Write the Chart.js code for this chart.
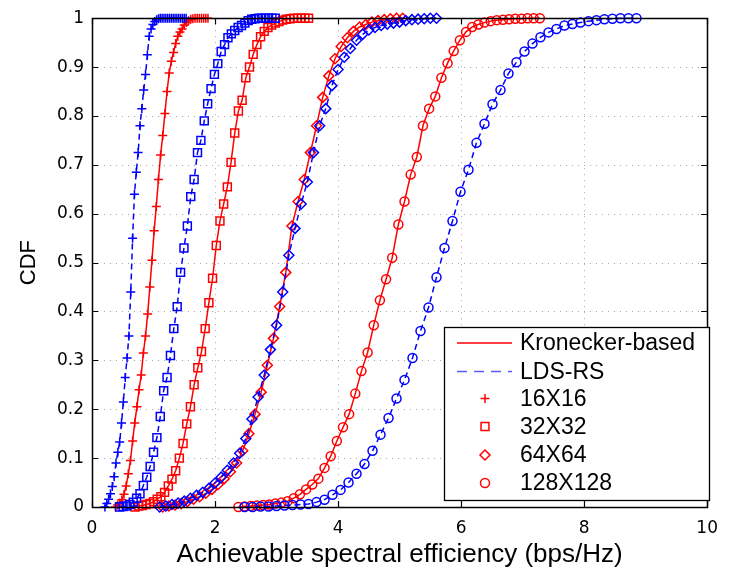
<!DOCTYPE html>
<html>
<head>
<meta charset="utf-8">
<title>CDF of achievable spectral efficiency</title>
<script src="https://cdn.jsdelivr.net/npm/chart.js@4.4.0/dist/chart.umd.min.js"></script>
<style>
    html, body { margin: 0; padding: 0; background: #ffffff; }
    #wrap { width: 729px; height: 570px; }
</style>
</head>
<body>
<div id="wrap"><canvas id="cdfChart" width="729" height="570"></canvas></div>
<script>
// axis ticks
const xTickValues = [0, 2, 4, 6, 8, 10];
const xTickLabels = ['0', '2', '4', '6', '8', '10'];
const yTickValues = [0, 0.1, 0.2, 0.3, 0.4, 0.5, 0.6, 0.7, 0.8, 0.9, 1];
const yTickLabels = ['0', '0.1', '0.2', '0.3', '0.4', '0.5', '0.6', '0.7', '0.8', '0.9', '1'];
const xTitle = 'Achievable spectral efficiency (bps/Hz)';
const yTitle = 'CDF';
const legendLabels = ['Kronecker-based', 'LDS-RS', '16X16', '32X32', '64X64', '128X128'];

// 16X16
const x16Kron = [0.38, 0.415, 0.45, 0.485, 0.52, 0.555, 0.59, 0.625, 0.66, 0.695, 0.73, 0.765, 0.80, 0.835, 0.87, 0.905, 0.94, 0.975, 1.01, 1.045, 1.08, 1.115, 1.15, 1.185, 1.22, 1.255, 1.29, 1.325, 1.36, 1.395, 1.43, 1.465, 1.50, 1.535, 1.57, 1.605, 1.64, 1.675, 1.71, 1.745, 1.78, 1.815, 1.85, 1.885];
const y16Kron = [0, 0.004, 0.008, 0.015, 0.026, 0.043, 0.068, 0.095, 0.135, 0.172, 0.205, 0.240, 0.270, 0.315, 0.350, 0.395, 0.450, 0.505, 0.565, 0.615, 0.670, 0.720, 0.760, 0.805, 0.850, 0.888, 0.912, 0.930, 0.948, 0.963, 0.972, 0.978, 0.986, 0.991, 0.995, 0.998, 0.999, 1, 1, 1, 1, 1, 1, 1];
const x16Lds = [0.21, 0.24, 0.27, 0.30, 0.33, 0.36, 0.39, 0.42, 0.45, 0.48, 0.51, 0.54, 0.57, 0.60, 0.63, 0.66, 0.69, 0.72, 0.75, 0.78, 0.81, 0.84, 0.87, 0.90, 0.93, 0.96, 0.99, 1.02, 1.05, 1.08, 1.11, 1.14, 1.17, 1.20, 1.23, 1.26, 1.29, 1.32, 1.35, 1.38, 1.41, 1.44, 1.47, 1.50, 1.53];
const y16Lds = [0, 0.007, 0.016, 0.027, 0.042, 0.062, 0.090, 0.112, 0.133, 0.172, 0.215, 0.265, 0.305, 0.350, 0.440, 0.550, 0.640, 0.685, 0.725, 0.780, 0.815, 0.853, 0.885, 0.925, 0.963, 0.978, 0.987, 0.993, 0.997, 0.999, 1, 1, 1, 1, 1, 1, 1, 1, 1, 1, 1, 1, 1, 1, 1];

// 32X32
const x32Kron = [0.70, 0.76, 0.82, 0.88, 0.94, 1.00, 1.06, 1.12, 1.18, 1.24, 1.30, 1.36, 1.42, 1.48, 1.54, 1.60, 1.66, 1.72, 1.78, 1.84, 1.90, 1.96, 2.02, 2.08, 2.14, 2.20, 2.26, 2.32, 2.38, 2.44, 2.50, 2.56, 2.62, 2.68, 2.74, 2.80, 2.86, 2.92, 2.98, 3.04, 3.10, 3.16, 3.22, 3.28, 3.34, 3.40, 3.46, 3.52];
const y32Kron = [0, 0.002, 0.003, 0.005, 0.007, 0.011, 0.016, 0.021, 0.030, 0.043, 0.057, 0.074, 0.100, 0.130, 0.170, 0.205, 0.250, 0.285, 0.318, 0.365, 0.418, 0.468, 0.535, 0.585, 0.620, 0.655, 0.705, 0.765, 0.810, 0.832, 0.878, 0.900, 0.926, 0.946, 0.962, 0.973, 0.981, 0.986, 0.990, 0.993, 0.996, 0.998, 0.999, 1, 1, 1, 1, 1];
const x32Lds = [0.45, 0.505, 0.56, 0.615, 0.67, 0.725, 0.78, 0.835, 0.89, 0.945, 1.00, 1.055, 1.11, 1.165, 1.22, 1.275, 1.33, 1.385, 1.44, 1.495, 1.55, 1.605, 1.66, 1.715, 1.77, 1.825, 1.88, 1.935, 1.99, 2.045, 2.10, 2.155, 2.21, 2.265, 2.32, 2.375, 2.43, 2.485, 2.54, 2.595, 2.65, 2.705, 2.76, 2.815, 2.87, 2.925, 2.98];
const y32Lds = [0, 0.001, 0.002, 0.005, 0.010, 0.018, 0.027, 0.044, 0.061, 0.083, 0.112, 0.142, 0.185, 0.238, 0.265, 0.310, 0.365, 0.410, 0.480, 0.530, 0.575, 0.635, 0.670, 0.725, 0.750, 0.790, 0.825, 0.856, 0.885, 0.907, 0.932, 0.946, 0.960, 0.968, 0.975, 0.981, 0.985, 0.990, 0.995, 0.998, 0.999, 1, 1, 1, 1, 1, 1];

// 64X64
const x64Kron = [1.15, 1.25, 1.35, 1.45, 1.55, 1.65, 1.75, 1.85, 1.95, 2.05, 2.15, 2.25, 2.35, 2.45, 2.55, 2.65, 2.75, 2.85, 2.95, 3.05, 3.15, 3.25, 3.35, 3.45, 3.55, 3.65, 3.75, 3.85, 3.95, 4.05, 4.15, 4.25, 4.35, 4.45, 4.55, 4.65, 4.75, 4.85, 4.95, 5.05];
const y64Kron = [0, 0.002, 0.004, 0.007, 0.011, 0.016, 0.021, 0.028, 0.036, 0.046, 0.058, 0.072, 0.090, 0.115, 0.150, 0.190, 0.235, 0.290, 0.345, 0.410, 0.480, 0.575, 0.625, 0.670, 0.725, 0.780, 0.838, 0.882, 0.917, 0.942, 0.960, 0.973, 0.982, 0.987, 0.992, 0.995, 0.997, 0.999, 1, 1];
const x64Lds = [1.10, 1.20, 1.30, 1.40, 1.50, 1.60, 1.70, 1.80, 1.90, 2.00, 2.10, 2.20, 2.30, 2.40, 2.50, 2.60, 2.70, 2.80, 2.90, 3.00, 3.10, 3.20, 3.30, 3.40, 3.50, 3.60, 3.70, 3.80, 3.90, 4.00, 4.10, 4.20, 4.30, 4.40, 4.50, 4.60, 4.70, 4.80, 4.90, 5.00, 5.10, 5.20, 5.30, 5.40, 5.50, 5.60];
const y64Lds = [0, 0.002, 0.005, 0.008, 0.012, 0.018, 0.024, 0.030, 0.038, 0.049, 0.061, 0.075, 0.090, 0.110, 0.140, 0.180, 0.225, 0.270, 0.322, 0.372, 0.440, 0.515, 0.570, 0.620, 0.665, 0.725, 0.780, 0.815, 0.862, 0.895, 0.920, 0.938, 0.955, 0.967, 0.976, 0.981, 0.985, 0.988, 0.990, 0.992, 0.995, 0.997, 0.998, 0.999, 1, 1];

// 128X128
const x128Kron = [2.38, 2.48, 2.58, 2.68, 2.78, 2.88, 2.98, 3.08, 3.18, 3.28, 3.38, 3.48, 3.58, 3.68, 3.78, 3.88, 3.98, 4.08, 4.18, 4.28, 4.38, 4.48, 4.58, 4.68, 4.78, 4.88, 4.98, 5.08, 5.18, 5.28, 5.38, 5.48, 5.58, 5.68, 5.78, 5.88, 5.98, 6.08, 6.18, 6.28, 6.38, 6.48, 6.58, 6.68, 6.78, 6.88, 6.98, 7.08, 7.18, 7.28];
const y128Kron = [0, 0.001, 0.002, 0.003, 0.004, 0.005, 0.007, 0.009, 0.012, 0.018, 0.026, 0.036, 0.046, 0.058, 0.080, 0.104, 0.135, 0.163, 0.190, 0.232, 0.278, 0.316, 0.372, 0.423, 0.466, 0.510, 0.578, 0.625, 0.680, 0.716, 0.780, 0.815, 0.840, 0.878, 0.908, 0.933, 0.955, 0.972, 0.982, 0.987, 0.991, 0.994, 0.996, 0.997, 0.998, 0.999, 0.999, 1, 1, 1];
const x128Lds = [2.48, 2.61, 2.74, 2.87, 3.00, 3.13, 3.26, 3.39, 3.52, 3.65, 3.78, 3.91, 4.04, 4.17, 4.30, 4.43, 4.56, 4.69, 4.82, 4.95, 5.08, 5.21, 5.34, 5.47, 5.60, 5.73, 5.86, 5.99, 6.12, 6.25, 6.38, 6.51, 6.64, 6.77, 6.90, 7.03, 7.16, 7.29, 7.42, 7.55, 7.68, 7.81, 7.94, 8.07, 8.20, 8.33, 8.46, 8.59, 8.72, 8.85];
const y128Lds = [0, 0, 0.001, 0.001, 0.002, 0.003, 0.004, 0.005, 0.006, 0.010, 0.015, 0.025, 0.035, 0.050, 0.068, 0.088, 0.115, 0.148, 0.182, 0.222, 0.260, 0.305, 0.360, 0.408, 0.470, 0.530, 0.585, 0.645, 0.690, 0.745, 0.784, 0.824, 0.853, 0.887, 0.910, 0.932, 0.948, 0.961, 0.971, 0.978, 0.985, 0.988, 0.991, 0.994, 0.996, 0.998, 0.999, 1, 1, 1];

const RED = '#ff0000';
const BLUE = '#0000ff';

function series(label, xs, ys, color, dashed, style, radius) {
    return {
        label: label,
        data: xs.map((x, i) => ({ x: x, y: ys[i] })),
        borderColor: color,
        borderWidth: 1.5,
        borderDash: dashed ? [6, 4] : [],
        pointStyle: style,
        pointRadius: radius,
        pointBorderColor: color,
        pointBackgroundColor: 'rgba(0,0,0,0)',
        pointBorderWidth: 1.5,
        tension: 0,
        clip: false
    };
}

// dotted grid, box with inward ticks, legend
const matlabAxes = {
    id: 'matlabAxes',
    beforeDatasetsDraw(chart) {
        const { ctx, chartArea: a, scales: { x, y } } = chart;
        ctx.save();
        ctx.strokeStyle = 'rgba(0,0,0,0.35)';
        ctx.lineWidth = 1;
        ctx.setLineDash([1, 5]);
        ctx.beginPath();
        xTickValues.forEach(v => {
            const px = Math.round(x.getPixelForValue(v)) + 0.5;
            if (px <= a.left + 1 || px >= a.right - 1) return;
            ctx.moveTo(px, a.top);
            ctx.lineTo(px, a.bottom);
        });
        yTickValues.forEach(v => {
            const py = Math.round(y.getPixelForValue(v)) + 0.5;
            if (py <= a.top + 1 || py >= a.bottom - 1) return;
            ctx.moveTo(a.left, py);
            ctx.lineTo(a.right, py);
        });
        ctx.stroke();
        ctx.restore();
    },
    afterDatasetsDraw(chart) {
        const { ctx, chartArea: a, scales: { x, y } } = chart;
        const t = 6;
        ctx.save();
        ctx.strokeStyle = '#000000';
        ctx.lineWidth = 1.2;
        ctx.setLineDash([]);
        ctx.beginPath();
        xTickValues.forEach(v => {
            const px = Math.round(x.getPixelForValue(v)) + 0.5;
            ctx.moveTo(px, a.bottom); ctx.lineTo(px, a.bottom - t);
            ctx.moveTo(px, a.top); ctx.lineTo(px, a.top + t);
        });
        yTickValues.forEach(v => {
            const py = Math.round(y.getPixelForValue(v)) + 0.5;
            ctx.moveTo(a.left, py); ctx.lineTo(a.left + t, py);
            ctx.moveTo(a.right, py); ctx.lineTo(a.right - t, py);
        });
        ctx.stroke();
        ctx.lineWidth = 1.5;
        ctx.strokeRect(Math.round(a.left) + 0.5, Math.round(a.top) + 0.5,
            Math.round(a.right - a.left), Math.round(a.bottom - a.top));
        ctx.restore();
    },
    afterDraw(chart) {
        const ctx = chart.ctx;
        const box = { left: 444.5, top: 327.5, width: 265, height: 173 };
        const rows = [343, 371.5, 398.5, 426.5, 455, 483];
        const markers = [null, null, ['cross', 4.5], ['rect', 5.6], ['rectRot', 5], ['circle', 4.5]];
        ctx.save();
        ctx.fillStyle = '#ffffff';
        ctx.fillRect(box.left, box.top, box.width, box.height);
        ctx.strokeStyle = '#000000';
        ctx.lineWidth = 1.3;
        ctx.strokeRect(box.left, box.top, box.width, box.height);

        ctx.lineWidth = 1.5;
        ctx.strokeStyle = RED;
        ctx.beginPath();
        ctx.moveTo(457, rows[0]); ctx.lineTo(512, rows[0]);
        ctx.stroke();

        ctx.strokeStyle = '#5a5aff';
        ctx.setLineDash([10, 7]);
        ctx.beginPath();
        ctx.moveTo(457, rows[1]); ctx.lineTo(512, rows[1]);
        ctx.stroke();
        ctx.setLineDash([]);

        markers.forEach((m, i) => {
            if (!m) return;
            ctx.strokeStyle = RED;
            ctx.fillStyle = 'rgba(0,0,0,0)';
            ctx.lineWidth = 1.5;
            Chart.helpers.drawPoint(ctx, { pointStyle: m[0], radius: m[1], rotation: 0, borderWidth: 1.5 }, 485, rows[i]);
        });

        ctx.fillStyle = '#000000';
        ctx.font = '23px "Liberation Sans", Arial, sans-serif';
        ctx.textAlign = 'left';
        ctx.textBaseline = 'middle';
        legendLabels.forEach((txt, i) => ctx.fillText(txt, 520, rows[i] + 1));
        ctx.restore();
    }
};

const datasets = [
    series('16X16 LDS-RS', x16Lds, y16Lds, BLUE, true, 'cross', 4.5),
    series('32X32 LDS-RS', x32Lds, y32Lds, BLUE, true, 'rect', 5.6),
    series('64X64 LDS-RS', x64Lds, y64Lds, BLUE, true, 'rectRot', 5),
    series('128X128 LDS-RS', x128Lds, y128Lds, BLUE, true, 'circle', 4.5),
    series('16X16 Kronecker-based', x16Kron, y16Kron, RED, false, 'cross', 4.5),
    series('32X32 Kronecker-based', x32Kron, y32Kron, RED, false, 'rect', 5.6),
    series('64X64 Kronecker-based', x64Kron, y64Kron, RED, false, 'rectRot', 5),
    series('128X128 Kronecker-based', x128Kron, y128Kron, RED, false, 'circle', 4.5)
];

const tickFont = { family: '"DejaVu Sans", sans-serif', size: 17 };

new Chart(document.getElementById('cdfChart'), {
    type: 'line',
    data: { datasets: datasets },
    options: {
        responsive: false,
        animation: false,
        events: [],
        layout: { padding: { left: 0, right: 17, top: 16, bottom: 0 } },
        plugins: {
            legend: { display: false },
            tooltip: { enabled: false }
        },
        scales: {
            x: {
                type: 'linear',
                min: 0,
                max: 10,
                afterBuildTicks: s => { s.ticks = xTickValues.map(v => ({ value: v })); },
                afterFit: s => { s.height = 63; },
                grid: { display: false, drawTicks: false },
                border: { display: false },
                ticks: {
                    autoSkip: false,
                    maxRotation: 0,
                    padding: 11,
                    color: '#000000',
                    font: tickFont,
                    callback: (v, i) => xTickLabels[i]
                },
                title: {
                    display: true,
                    text: xTitle,
                    color: '#000000',
                    font: { family: '"Liberation Sans", Arial, sans-serif', size: 26 },
                    padding: { top: 0, bottom: 0 }
                }
            },
            y: {
                type: 'linear',
                min: 0,
                max: 1,
                afterBuildTicks: s => { s.ticks = yTickValues.map(v => ({ value: v })); },
                afterFit: s => { s.width = 92; },
                grid: { display: false, drawTicks: false },
                border: { display: false },
                ticks: {
                    autoSkip: false,
                    padding: 8,
                    color: '#000000',
                    font: tickFont,
                    callback: (v, i) => yTickLabels[i]
                },
                title: {
                    display: true,
                    text: yTitle,
                    color: '#000000',
                    font: { family: '"Liberation Sans", Arial, sans-serif', size: 22 },
                    padding: { top: 16, bottom: 0 }
                }
            }
        }
    },
    plugins: [matlabAxes]
});
</script>
</body>
</html>
